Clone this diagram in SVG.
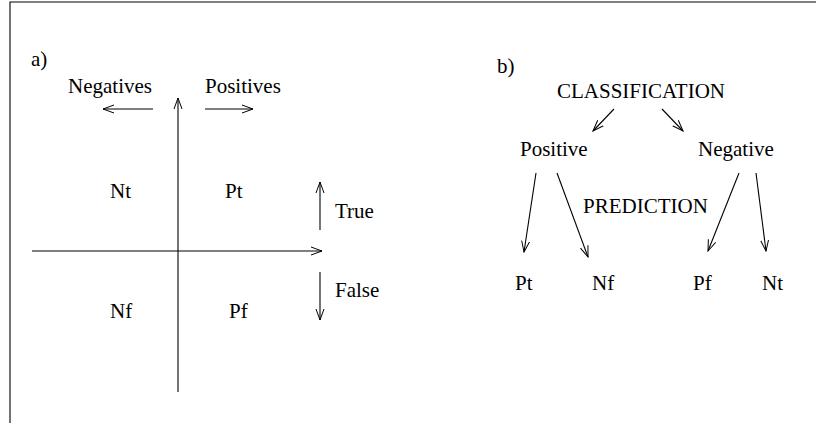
<svg xmlns="http://www.w3.org/2000/svg" width="816" height="423" viewBox="0 0 816 423">
<style>
text{font-family:"Liberation Serif","Times New Roman",serif;font-size:21px;fill:#000}
.ln{stroke:#000;stroke-width:1.1;fill:none}
</style>
<defs>
<marker id="ah" viewBox="0 0 12 10" refX="11" refY="5" markerWidth="12" markerHeight="10" markerUnits="userSpaceOnUse" orient="auto">
<path d="M0,1 L11,5 L0,9" fill="none" stroke="#000" stroke-width="1"/>
</marker>
</defs>
<rect width="816" height="423" fill="#fff"/>
<g id="frame">
<polyline class="ln" points="10,423 10,2 816,2" stroke-width="1.5"/>
</g>
<g id="connectors">
<line class="ln" x1="178" y1="392" x2="178" y2="98" marker-end="url(#ah)"/>
<line class="ln" x1="32" y1="251" x2="322" y2="251" marker-end="url(#ah)"/>
<line class="ln" x1="153" y1="109" x2="103" y2="109" marker-end="url(#ah)"/>
<line class="ln" x1="205" y1="109" x2="253" y2="109" marker-end="url(#ah)"/>
<line class="ln" x1="320" y1="230" x2="320" y2="182" marker-end="url(#ah)"/>
<line class="ln" x1="320" y1="272" x2="320" y2="320" marker-end="url(#ah)"/>
<line class="ln" x1="614" y1="109" x2="593" y2="131" marker-end="url(#ah)"/>
<line class="ln" x1="662" y1="109" x2="683" y2="131" marker-end="url(#ah)"/>
<line class="ln" x1="536" y1="173" x2="524" y2="252" marker-end="url(#ah)"/>
<line class="ln" x1="557" y1="173" x2="588" y2="257" marker-end="url(#ah)"/>
<line class="ln" x1="739" y1="173" x2="708" y2="251" marker-end="url(#ah)"/>
<line class="ln" x1="756" y1="173" x2="766" y2="251" marker-end="url(#ah)"/>
</g>
<g id="panel-a">
<text x="31" y="66">a)</text>
<text x="68" y="93">Negatives</text>
<text x="205" y="93">Positives</text>
<text x="110" y="198">Nt</text>
<text x="225" y="198">Pt</text>
<text x="110" y="318">Nf</text>
<text x="229" y="318">Pf</text>
<text x="335" y="218">True</text>
<text x="335" y="297">False</text>
</g>
<g id="panel-b">
<text x="497" y="73">b)</text>
<g id="classification"><text x="557" y="98">CLASSIFICATION</text></g>
<g id="positive"><text x="520" y="156">Positive</text></g>
<g id="negative"><text x="698" y="156">Negative</text></g>
<g id="prediction"><text x="583" y="213">PREDICTION</text></g>
<g id="pt"><text x="515" y="290">Pt</text></g>
<g id="nf"><text x="592" y="290">Nf</text></g>
<g id="pf"><text x="693" y="290">Pf</text></g>
<g id="nt"><text x="762" y="290">Nt</text></g>
</g>
</svg>
